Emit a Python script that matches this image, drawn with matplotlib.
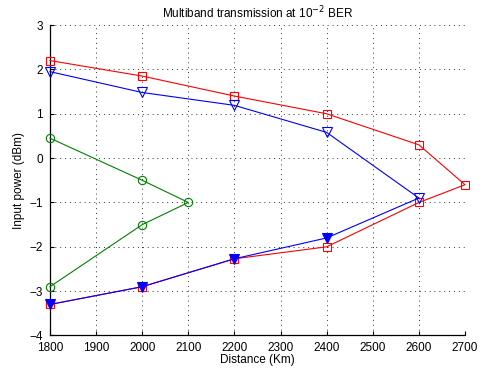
import numpy as np
import matplotlib.pyplot as plt

plt.rcParams['font.family'] = ['Liberation Sans', 'DejaVu Sans']

# données
red_x = [1800, 2000, 2200, 2400, 2600, 2700, 2600, 2400, 2200, 2000, 1800]
red_y = [2.2, 1.85, 1.4, 1.0, 0.3, -0.6, -1.0, -2.0, -2.27, -2.9, -3.3]

blue_up_x = [1800, 2000, 2200, 2400, 2600]
blue_up_y = [1.95, 1.48, 1.19, 0.58, -0.9]
blue_low_x = [2600, 2400, 2200, 2000, 1800]
blue_low_y = [-0.9, -1.8, -2.27, -2.9, -3.3]

green_x = [1800, 2000, 2100, 2000, 1800]
green_y = [0.45, -0.5, -1.0, -1.5, -2.9]

fig = plt.figure(figsize=(4.83, 3.69), dpi=100)
ax = fig.add_axes([0.1035, 0.0908, 0.8592, 0.8412])

ax.plot(green_x, green_y, color='#008000', lw=0.8, marker='o', ms=6,
        mfc='none', mec='#008000', mew=0.8, clip_on=False, zorder=3)
ax.plot(red_x, red_y, color='red', lw=0.8, marker='s', ms=5.5,
        mfc='none', mec='red', mew=0.8, clip_on=False, zorder=3)
ax.plot(blue_up_x, blue_up_y, color='blue', lw=0.8, marker='v', ms=7,
        mfc='none', mec='blue', mew=0.8, clip_on=False, zorder=3)
ax.plot(blue_low_x[1:], blue_low_y[1:], color='blue', lw=0.8, marker='v', ms=7,
        mfc='blue', mec='blue', mew=0.8, clip_on=False, zorder=3)
ax.plot(blue_low_x[:2], blue_low_y[:2], color='blue', lw=0.8, zorder=3)

ax.set_xlim(1800, 2700)
ax.set_ylim(-4, 3)
ax.set_xticks(np.arange(1800, 2701, 100))
ax.set_yticks(np.arange(-4, 4, 1))
ax.grid(True, color='#333333', linestyle=(0, (1, 4)), lw=0.7)
ax.tick_params(direction='in', labelsize=8.5, length=3, pad=5)
ax.spines['top'].set_visible(False)
ax.spines['right'].set_visible(False)
for s in ['left', 'bottom']:
    ax.spines[s].set_linewidth(0.9)

ax.set_xlabel("Distance (Km)", fontsize=8.5, labelpad=0)
ax.set_ylabel("Input power (dBm)", fontsize=8.5, labelpad=3)
ax.set_title(r"Multiband transmission at 10$^{-2}$ BER", fontsize=8.5, pad=5)

fig.savefig("out.png", dpi=100)
